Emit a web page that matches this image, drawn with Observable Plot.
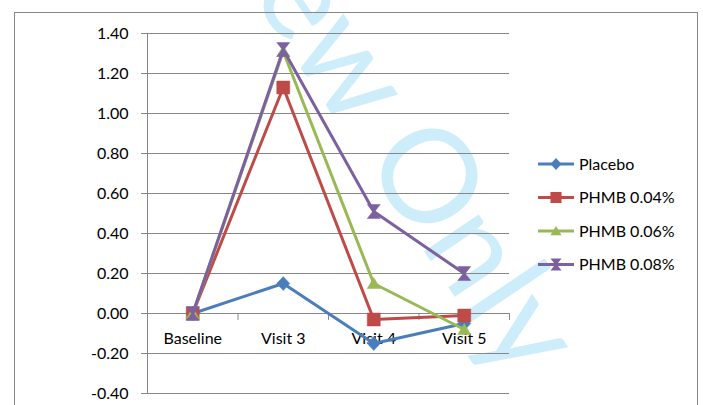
<!DOCTYPE html>
<html>
<head>
<meta charset="utf-8">
<script src="https://cdn.jsdelivr.net/npm/d3@7"></script>
<script src="https://cdn.jsdelivr.net/npm/@observablehq/plot@0.6"></script>
<style>
  html, body { margin: 0; padding: 0; background: #fff; }
  #chart { position: relative; width: 703px; height: 405px; overflow: hidden; }
  #chart svg { font-family: Lato, "Open Sans", sans-serif; }
</style>
</head>
<body>
<div id="chart"></div>
<script>
// Visits on the x axis
const categories = ["Baseline", "Visit 3", "Visit 4", "Visit 5"];
// Series names, in drawing order
const seriesNames = ["Placebo", "PHMB 0.04%", "PHMB 0.06%", "PHMB 0.08%"];
// Change from baseline per visit
const placebo = [0, 0.15, -0.15, -0.05];
const phmb004 = [0, 1.13, -0.03, -0.01];
const phmb006 = [0, 1.31, 0.15, -0.08];
const phmb008 = [0, 1.32, 0.51, 0.20];
// Value axis ticks
const yTicks = [-0.4, -0.2, 0, 0.2, 0.4, 0.6, 0.8, 1.0, 1.2, 1.4];
const watermarkText = "Review Only";

const seriesValues = [placebo, phmb004, phmb006, phmb008];
const colors = ["#4a7ebb", "#be4b48", "#98b954", "#7d60a0"];

// Marker shapes (fixed pixel sizes)
const diamond = {draw(c) { c.moveTo(0, -7); c.lineTo(6.5, 0); c.lineTo(0, 7); c.lineTo(-6.5, 0); c.closePath(); }};
const square = {draw(c) { c.rect(-6.5, -6.5, 13, 13); }};
const triangle = {draw(c) { c.moveTo(0, -6); c.lineTo(6.5, 5); c.lineTo(-6.5, 5); c.closePath(); }};
const hourglass = {draw(c) {
  c.moveTo(-6.5, -7); c.lineTo(6.5, -7); c.lineTo(1, 0); c.lineTo(6.5, 7);
  c.lineTo(-6.5, 7); c.lineTo(-1, 0); c.closePath();
}};
const symbols = [diamond, square, triangle, hourglass];

// Long-format table: one row per series and visit
const rows = seriesNames.flatMap((name, s) =>
  categories.map((visit, i) => ({series: name, visit, value: seriesValues[s][i]}))
);
// Visits sit at the middle of their slots on a linear x scale
const slot = (visit) => categories.indexOf(visit) + 0.5;
const boundaries = d3.range(1, categories.length + 1);
const downTick = {draw(c, l) { c.moveTo(0, 0); c.lineTo(0, -l); }};
const gray = "#878787";
const fmt = (d) => d3.format(".2f")(d).replace("\u2212", "-");

const seriesMarks = seriesNames.flatMap((name, s) => {
  const data = rows.filter(d => d.series === name);
  return [
    Plot.line(data, {x: d => slot(d.visit), y: "value", stroke: colors[s], strokeWidth: 3, strokeLinejoin: "round"}),
    Plot.dot(data, {x: d => slot(d.visit), y: "value", symbol: () => symbols[s], fill: colors[s], stroke: colors[s], strokeWidth: 0.5, r: 6})
  ];
});

const chart = Plot.plot({
  width: 703,
  height: 405,
  marginLeft: 147,
  marginRight: 194,
  marginTop: 33,
  marginBottom: 12,
  style: {fontSize: "16px", color: "#000", background: "transparent"},
  x: {domain: [0, categories.length], axis: null},
  y: {domain: [-0.4, 1.4], axis: null},
  symbol: {type: "identity"},
  marks: [
    Plot.gridY(yTicks, {stroke: gray, strokeOpacity: 1, strokeWidth: 1}),
    Plot.axisY(yTicks, {tickFormat: fmt, tickSize: 6, tickPadding: 13, stroke: gray, fontSize: 16, fill: "#000", label: null}),
    Plot.ruleX([0], {stroke: gray}),
    Plot.ruleY([0], {stroke: gray}),
    Plot.vector(boundaries, {x: d => d, y: 0, length: 6, rotate: 180, anchor: "start", shape: downTick, stroke: gray, strokeWidth: 1}),
    Plot.text(categories, {x: (d, i) => i + 0.5, y: 0, dy: 25, text: d => d, fontSize: 16, fill: "#000"}),
    ...seriesMarks
  ]
});

const root = document.getElementById("chart");
root.appendChild(chart);

const svg = d3.select(chart);

// Watermark behind everything
svg.insert("text", ":first-child")
  .attr("transform", "translate(314,88) rotate(56)")
  .attr("text-anchor", "middle")
  .attr("font-family", "Lato, sans-serif")
  .attr("font-size", 130)
  .attr("fill", "#cdedfb")
  .text(watermarkText);

// Chart area border
svg.append("rect")
  .attr("x", 14.5).attr("y", 12.5)
  .attr("width", 683).attr("height", 420)
  .attr("fill", "none").attr("stroke", gray);

// Legend
const legend = svg.append("g").attr("transform", "translate(538,164)");
seriesNames.forEach((name, s) => {
  const g = legend.append("g").attr("transform", `translate(0,${s * 33.5})`);
  g.append("line").attr("x1", 0).attr("x2", 36).attr("y1", 0).attr("y2", 0)
    .attr("stroke", colors[s]).attr("stroke-width", 3);
  const p = d3.path();
  symbols[s].draw(p);
  g.append("path").attr("d", p.toString()).attr("transform", "translate(18,0) scale(0.85)")
    .attr("fill", colors[s]);
  g.append("text").attr("x", 41).attr("y", 0).attr("dy", "0.35em")
    .attr("text-anchor", "start")
    .attr("font-size", 16).attr("fill", "#000").text(name);
});
</script>
</body>
</html>
